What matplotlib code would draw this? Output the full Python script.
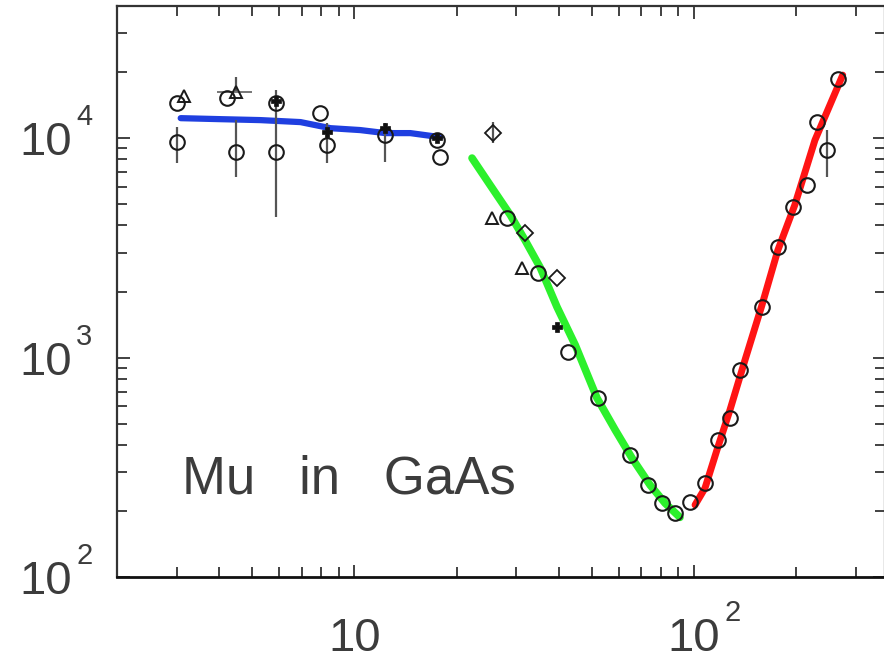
import matplotlib
matplotlib.use("Agg")
import matplotlib.pyplot as plt
import matplotlib.transforms as mtransforms
import numpy as np
from matplotlib.ticker import LogLocator, FixedLocator, NullFormatter

# ---------------- data ----------------
blue_x = [3.08, 4.04, 5.29, 6.94, 8.50, 10.41, 12.33, 14.61, 17.9]
blue_y = [12330, 12200, 12080, 11830, 11100, 10880, 10540, 10540, 10100]

green_x = [22.2, 25.1, 28.8, 31.8, 35.3, 39.5, 44.7, 51.8, 58.6, 65.7, 74.3, 82.2, 90.9]
green_y = [8110, 6110, 4458, 3426, 2560, 1700, 1140, 654, 468, 348, 262, 217, 187]

red_x = [100.7, 107.7, 116.8, 127.6, 141.3, 158.5, 176.6, 198, 227, 274]
red_y = [213, 254, 379, 577, 975, 1734, 3090, 4955, 9792, 19370]

circle_x = [3.01, 3.0, 4.23, 4.47, 5.86, 5.86, 7.94, 8.33, 12.33, 17.5, 17.9,
            28.2, 34.8, 42.6, 52.2, 64.8, 73.2, 80.5, 87.9,
            97.3, 107.7, 117.7, 127.6, 136.5, 158.5, 176.6, 195.5, 214.9, 230, 246, 265]
circle_y = [14430, 9590, 15210, 8634, 14430, 8634, 12990, 9293, 10320, 9792, 8194,
            4321, 2426, 1059, 654, 360, 262, 217, 196,
            220, 268, 421, 530, 877, 1698, 3187, 4850, 6110, 11830, 8814, 18570]

triangle_x = [3.16, 4.47, 25.5, 31.2]
triangle_y = [15530, 16200, 4321, 2560]

diamond_x = [25.6, 31.8, 39.5]
diamond_y = [10540, 3690, 2302]

filled_x = [5.86, 8.33, 12.33, 17.5, 39.5]
filled_y = [14800, 10650, 11100, 10000, 1377]

err_x = [3.0, 4.47, 4.47, 5.86, 8.33, 12.33, 25.6, 246]
err_y = [9590, 8634, 16200, 8634, 9293, 10320, 10540, 8814]
err_lo = [7690, 6640, 16200, 4365, 7690, 7775, 9490, 6650]
err_hi = [11220, 12080, 18960, 16550, 11700, 11700, 11800, 10880]

herr_x = [4.47]
herr_y = [16200]
herr_lo = [3.95]
herr_hi = [5.01]

x_ticks = [10, 100]
x_tick_base = ["10", "10"]
x_tick_exp = ["", "2"]
y_ticks = [1e2, 1e3, 1e4]
y_tick_base = ["10", "10", "10"]
y_tick_exp = ["2", "3", "4"]
label_text = "Mu   in   GaAs"

# ---------------- style ----------------
plt.rcParams["font.family"] = ["Liberation Sans", "DejaVu Sans"]

W, H = 884, 663
fig = plt.figure(figsize=(W / 100, H / 100), dpi=100)
left_px, right_px, top_px, bottom_px = 117, 885, 6, 577
ax = fig.add_axes([left_px / W, 1 - bottom_px / H,
                   (right_px - left_px) / W, (bottom_px - top_px) / H])
ax.set_xscale("log")
ax.set_yscale("log")
ax.set_xlim(2.0, 365)
ax.set_ylim(100, 4.0e4)

textc = "#3c3c3c"
tick_fs = 34
sup_fs = 21

# lines
ax.plot(blue_x, blue_y, color="#1f3fe0", lw=4.5, solid_capstyle="round", zorder=2)
ax.plot(green_x, green_y, color="#2cf02c", lw=5.5, solid_capstyle="round", zorder=2)
ax.plot(red_x, red_y, color="#ff1414", lw=5.0, solid_capstyle="round", zorder=2)

# error bars
ax.errorbar(err_x, err_y,
            yerr=[np.array(err_y) - np.array(err_lo), np.array(err_hi) - np.array(err_y)],
            fmt="none", ecolor="#555555", elinewidth=1.6, capsize=0, zorder=3)
ax.errorbar(herr_x, herr_y,
            xerr=[np.array(herr_x) - np.array(herr_lo), np.array(herr_hi) - np.array(herr_x)],
            fmt="none", ecolor="#777777", elinewidth=1.4, capsize=0, zorder=3)

# markers
ax.plot(circle_x, circle_y, linestyle="none", marker="o", ms=10.5, mfc="none",
        mec="#1a1a1a", mew=1.5, zorder=4)
ax.plot(triangle_x, triangle_y, linestyle="none", marker="^", ms=9, mfc="none",
        mec="#1a1a1a", mew=1.4, zorder=4)
ax.plot(diamond_x, diamond_y, linestyle="none", marker="D", ms=8, mfc="none",
        mec="#1a1a1a", mew=1.3, zorder=4)
ax.plot(filled_x, filled_y, linestyle="none", marker="P", ms=7, mfc="#111111",
        mec="#111111", mew=0.5, zorder=4)

# ticks (labels drawn as separate base + exponent texts)
ax.xaxis.set_major_locator(FixedLocator(x_ticks))
ax.xaxis.set_major_formatter(NullFormatter())
ax.xaxis.set_minor_locator(LogLocator(base=10, subs=np.arange(2, 10), numticks=20))
ax.xaxis.set_minor_formatter(NullFormatter())
ax.yaxis.set_major_locator(FixedLocator(y_ticks))
ax.yaxis.set_major_formatter(NullFormatter())
ax.yaxis.set_minor_locator(LogLocator(base=10, subs=np.arange(2, 10), numticks=20))
ax.yaxis.set_minor_formatter(NullFormatter())

ax.tick_params(which="both", direction="in", top=True, right=True,
               color="#333333", width=1.3)
ax.tick_params(which="major", length=9)
ax.tick_params(which="minor", length=7)

for s in ax.spines.values():
    s.set_color("#333333")
    s.set_linewidth(1.6)
ax.spines["bottom"].set_color("#111111")
ax.spines["bottom"].set_linewidth(2.0)

# y tick labels
ytrans = mtransforms.offset_copy(ax.get_yaxis_transform(), fig=fig, x=0, y=-17, units="dots")
for v, b, e in zip(y_ticks, y_tick_base, y_tick_exp):
    t = ax.text((72 - left_px) / (right_px - left_px), v, b, transform=ytrans,
                fontsize=tick_fs, color=textc, ha="right", va="baseline", clip_on=False)
    if e:
        ax.annotate(e, xy=(1, 1), xycoords=t, xytext=(4, -4), textcoords="offset pixels",
                    fontsize=sup_fs, color=textc, ha="left", va="baseline",
                    annotation_clip=False)

# x tick labels
xbase_y = (bottom_px - 651) / (bottom_px - top_px)
for v, b, e in zip(x_ticks, x_tick_base, x_tick_exp):
    t = ax.text(v, xbase_y, b, transform=ax.get_xaxis_transform(),
                fontsize=tick_fs, color=textc, ha="center", va="baseline", clip_on=False)
    if e:
        ax.annotate(e, xy=(1, 1), xycoords=t, xytext=(4, -4), textcoords="offset pixels",
                    fontsize=sup_fs, color=textc, ha="left", va="baseline",
                    annotation_clip=False)

ax.text(0.0846, 0.147, label_text, transform=ax.transAxes, fontsize=38,
        color=textc, ha="left", va="baseline")

fig.savefig("out.png", dpi=100)
